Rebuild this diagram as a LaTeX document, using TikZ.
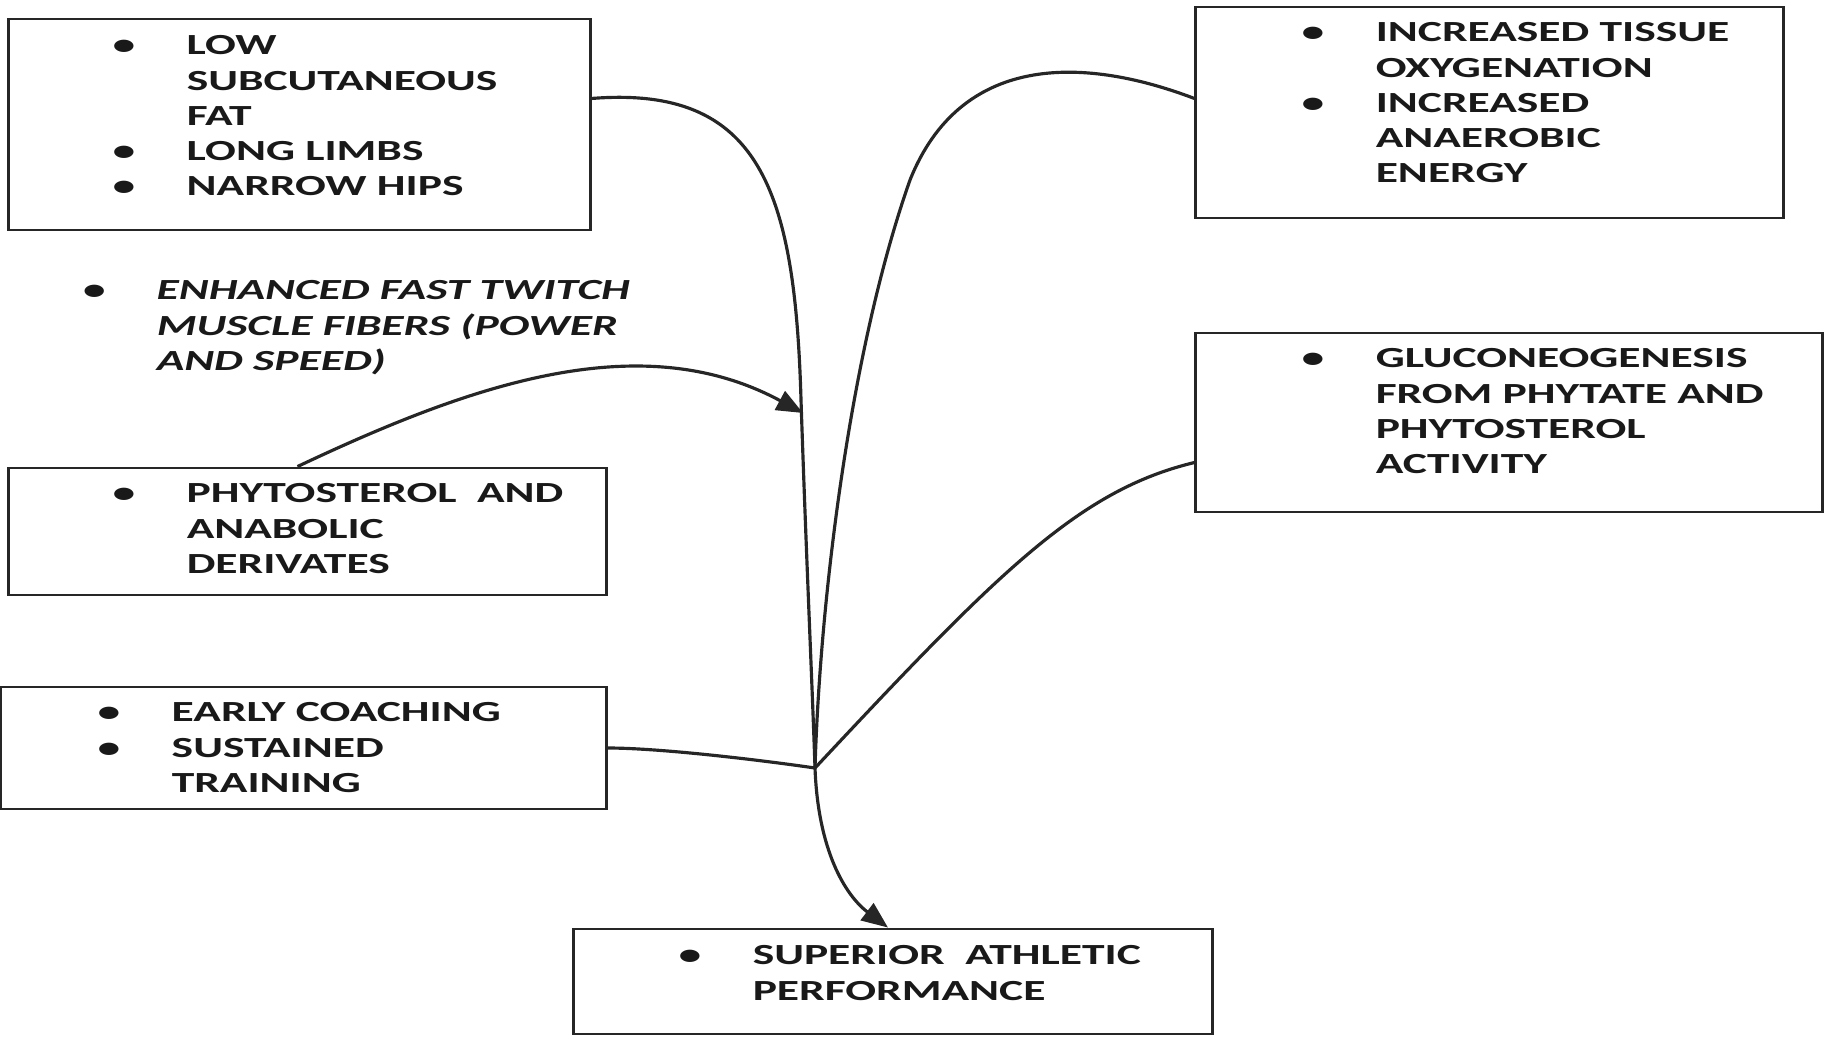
\documentclass[tikz,border=0pt]{standalone}
\usepackage{fontspec}
\setmainfont{Carlito}[FakeStretch=1.56]
\usetikzlibrary{arrows.meta}

\newcommand{\bitem}{\makebox[0.74cm][l]{\textbullet}}
\newcommand{\bgap}{\hspace*{0.74cm}}

\begin{document}
\begin{tikzpicture}[x=0.01cm, y=-0.01cm,
		boxStyle/.style={draw=black!85, line width=0.8pt, rectangle, inner sep=0pt},
		textStyle/.style={anchor=north west, align=left, inner sep=0pt, text=black!90, font=\fontsize{8.3}{10}\selectfont\bfseries},
		linkStyle/.style={draw=black!85, line width=0.9pt},
		arrowStyle/.style={linkStyle, -{Triangle[length=7.5pt, width=6pt]}}]
			\useasboundingbox (0,0) rectangle (1825,1037);

			% Left column
			\node[boxStyle, minimum width=5.81cm, minimum height=2.11cm] (physique) at (299.5,124.5) {};
			\node[textStyle] (physiqueTxt) at (112,35) {\bitem LOW\\ \bgap SUBCUTANEOUS\\ \bgap FAT\\ \bitem LONG LIMBS\\ \bitem NARROW HIPS};

			\node[textStyle, font=\fontsize{8.3}{10}\selectfont\bfseries\itshape] (twitch) at (82,280) {\bitem ENHANCED FAST TWITCH\\ \bgap MUSCLE FIBERS (POWER\\ \bgap AND SPEED)};

			\node[boxStyle, minimum width=5.97cm, minimum height=1.27cm] (sterol) at (307.5,531.5) {};
			\node[textStyle] (sterolTxt) at (112,483) {\bitem PHYTOSTEROL\ \ AND\\ \bgap ANABOLIC\\ \bgap DERIVATES};

			\node[boxStyle, minimum width=6.05cm, minimum height=1.22cm] (coach) at (303.5,748) {};
			\node[textStyle] (coachTxt) at (97,702) {\bitem EARLY COACHING\\ \bitem SUSTAINED\\ \bgap TRAINING};

			% Right column
			\node[boxStyle, minimum width=5.87cm, minimum height=2.11cm] (oxygen) at (1489.5,112.5) {};
			\node[textStyle] (oxygenTxt) at (1301,22) {\bitem INCREASED TISSUE\\ \bgap OXYGENATION\\ \bitem INCREASED\\ \bgap ANAEROBIC\\ \bgap ENERGY};

			\node[boxStyle, minimum width=6.26cm, minimum height=1.79cm] (gluco) at (1509,422.5) {};
			\node[textStyle] (glucoTxt) at (1301,348) {\bitem GLUCONEOGENESIS\\ \bgap FROM PHYTATE AND\\ \bgap PHYTOSTEROL\\ \bgap ACTIVITY};

			% Outcome
			\node[boxStyle, minimum width=6.38cm, minimum height=1.05cm] (perform) at (893,981.5) {};
			\node[textStyle] (performTxt) at (678,945) {\bitem SUPERIOR\ \ ATHLETIC\\ \bgap PERFORMANCE};

			\coordinate (hub) at (815,768);

			% Connectors
			\draw[linkStyle] ([yshift=0.26cm]physique.east) .. controls (760,85) and (795,190) .. (801,400) .. controls (806,550) and (812,680) .. (hub);
			\draw[linkStyle] ([yshift=0.14cm]oxygen.west) .. controls (1080,55) and (960,55) .. (910,180) .. controls (850,350) and (820,600) .. (hub);
			\draw[arrowStyle] ([xshift=-0.1cm]sterol.north) .. controls (470,385) and (640,325) .. (803,413);
			\draw[linkStyle] ([yshift=-0.4cm]gluco.west) .. controls (1080,490) and (1000,570) .. (hub);
			\draw[linkStyle] (coach.east) .. controls (660,748) and (760,760) .. (hub);
			\draw[arrowStyle] (hub) .. controls (818,850) and (845,895) .. ([xshift=-0.05cm]perform.north);

		\end{tikzpicture}
\end{document}
